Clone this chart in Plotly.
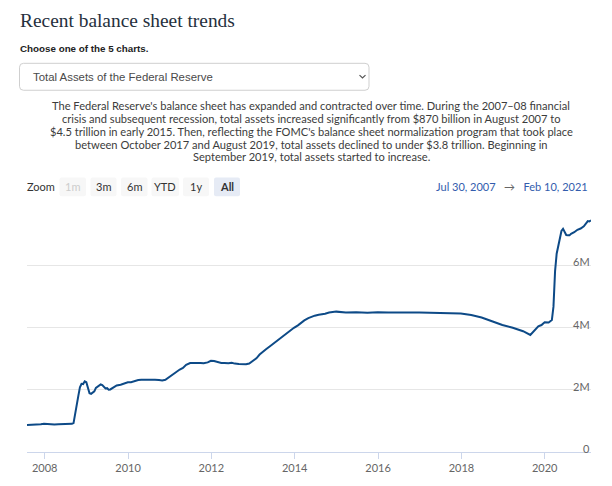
import plotly.graph_objects as go

# ---- data (Total assets of the Federal Reserve, billions of dollars) ----
dates = [
    "2007-07-30", "2007-08-29", "2007-09-26", "2007-10-31", "2007-11-28", "2007-12-26",
    "2008-01-30", "2008-02-27", "2008-03-26", "2008-04-30", "2008-05-28", "2008-06-25",
    "2008-07-30", "2008-08-27", "2008-09-10", "2008-09-24", "2008-10-08", "2008-10-22",
    "2008-11-05", "2008-11-19", "2008-12-03", "2008-12-17", "2008-12-31",
    "2009-01-14", "2009-01-28", "2009-02-11", "2009-02-25", "2009-03-11", "2009-03-25",
    "2009-04-08", "2009-04-22", "2009-05-06", "2009-05-20", "2009-06-03", "2009-06-17",
    "2009-07-01", "2009-07-15", "2009-07-29", "2009-08-12", "2009-08-26", "2009-09-23",
    "2009-10-28", "2009-11-25", "2009-12-30",
    "2010-01-27", "2010-02-24", "2010-03-31", "2010-04-28", "2010-05-26", "2010-06-30",
    "2010-07-28", "2010-08-25", "2010-09-29", "2010-10-27", "2010-11-24", "2010-12-29",
    "2011-01-26", "2011-02-23", "2011-03-30", "2011-04-27", "2011-05-25", "2011-06-29",
    "2011-07-27", "2011-08-31", "2011-09-28", "2011-10-26", "2011-11-30", "2011-12-28",
    "2012-01-25", "2012-02-29", "2012-03-28", "2012-04-25", "2012-05-30", "2012-06-27",
    "2012-07-25", "2012-08-29", "2012-09-26", "2012-10-31", "2012-11-28", "2012-12-26",
    "2013-01-30", "2013-02-27", "2013-03-27", "2013-04-24", "2013-05-29", "2013-06-26",
    "2013-07-31", "2013-08-28", "2013-09-25", "2013-10-30", "2013-11-27", "2013-12-25",
    "2014-01-29", "2014-02-26", "2014-03-26", "2014-04-30", "2014-05-28", "2014-06-25",
    "2014-07-30", "2014-08-27", "2014-09-24", "2014-10-29", "2014-11-26", "2014-12-31",
    "2015-03-25", "2015-06-24", "2015-09-30", "2015-12-30",
    "2016-03-30", "2016-06-29", "2016-09-28", "2016-12-28",
    "2017-03-29", "2017-06-28", "2017-09-27", "2017-12-27",
    "2018-03-28", "2018-06-27", "2018-09-26", "2018-12-26",
    "2019-03-27", "2019-06-26", "2019-08-28", "2019-09-18", "2019-10-09", "2019-11-06",
    "2019-12-04", "2020-01-01", "2020-02-05", "2020-03-04", "2020-03-18", "2020-03-25",
    "2020-04-01", "2020-04-15", "2020-04-29", "2020-05-13", "2020-05-27", "2020-06-10",
    "2020-06-24", "2020-07-08", "2020-07-22", "2020-08-05", "2020-08-19", "2020-09-16",
    "2020-10-14", "2020-11-11", "2020-12-09", "2020-12-30", "2021-01-13", "2021-01-27",
    "2021-02-10",
]
assets_bn = [
    869, 870, 872, 885, 890, 905,
    890, 882, 885, 888, 890, 893,
    900, 905, 927, 1234, 1614, 1805,
    2076, 2190, 2183, 2270, 2240,
    2060, 1890, 1870, 1900, 1950, 2060,
    2090, 2140, 2170, 2150, 2100, 2040,
    2050, 2000, 2010, 2040, 2090, 2140,
    2160, 2200, 2240,
    2240, 2280, 2310, 2320, 2320, 2340,
    2330, 2320, 2310, 2300, 2320, 2420,
    2500, 2560, 2650, 2700, 2800, 2860,
    2870, 2860, 2860, 2850, 2880, 2930,
    2920, 2880, 2860, 2860, 2850, 2870,
    2840, 2830, 2820, 2820, 2840, 2910,
    3010, 3130, 3230, 3300, 3400, 3480,
    3560, 3640, 3720, 3830, 3910, 3990,
    4070, 4160, 4230, 4300, 4350, 4380,
    4410, 4420, 4440, 4480, 4490, 4510,
    4480, 4490, 4470, 4490,
    4480, 4470, 4480, 4480,
    4470, 4470, 4470, 4450,
    4400, 4320, 4200, 4080,
    3990, 3880, 3760, 3850, 3950, 4040,
    4080, 4170, 4160, 4240, 4670, 5250,
    5810, 6370, 6650, 6930, 7100, 7170,
    7090, 6970, 6960, 6960, 7010, 7060,
    7140, 7180, 7250, 7360, 7420, 7410,
    7440,
]
ytick_vals = [0, 2e6, 4e6, 6e6, 8e6]
ytick_text = ["0", "2M", "4M", "6M", ""]
xtick_vals = ["2008-01-01", "2010-01-01", "2012-01-01", "2014-01-01",
              "2016-01-01", "2018-01-01", "2020-01-01"]
xtick_text = ["2008", "2010", "2012", "2014", "2016", "2018", "2020"]
zoom_buttons = ["1m", "3m", "6m", "YTD", "1y", "All"]
chart_options = ["Total Assets of the Federal Reserve"]
desc_lines = [
    "The Federal Reserve's balance sheet has expanded and contracted over time. During the 2007–08 financial",
    "crisis and subsequent recession, total assets increased significantly from $870 billion in August 2007 to",
    "$4.5 trillion in early 2015. Then, reflecting the FOMC's balance sheet normalization program that took place",
    "between October 2017 and August 2019, total assets declined to under $3.8 trillion. Beginning in",
    "September 2019, total assets started to increase.",
]

# ---- layout geometry (pixels) ----
W, H = 612, 486
L, R, T, B = 27, 591, 203, 457


def px(x):
    return (x - L) / (R - L)


def py(y):
    return (B - y) / (B - T)


def rrect(x0, y0, x1, y1, r):
    X = lambda v: px(v)
    Y = lambda v: py(v)
    return (f"M {X(x0 + r)} {Y(y0)} L {X(x1 - r)} {Y(y0)} Q {X(x1)} {Y(y0)} {X(x1)} {Y(y0 + r)} "
            f"L {X(x1)} {Y(y1 - r)} Q {X(x1)} {Y(y1)} {X(x1 - r)} {Y(y1)} "
            f"L {X(x0 + r)} {Y(y1)} Q {X(x0)} {Y(y1)} {X(x0)} {Y(y1 - r)} "
            f"L {X(x0)} {Y(y0 + r)} Q {X(x0)} {Y(y0)} {X(x0 + r)} {Y(y0)} Z")


def note(text, x, y, xanchor="left", size=11, family="Lato", color="#333333", **kw):
    if xanchor == "left":
        x -= 2
    return dict(text=text, x=px(x), y=py(y), xref="paper", yref="paper",
                xanchor=xanchor, yanchor="middle", showarrow=False,
                font=dict(family=family, size=size, color=color), **kw)


fig = go.Figure()
fig.add_trace(go.Scatter(
    x=dates, y=[v * 1000 for v in assets_bn], mode="lines",
    line=dict(color="#0d4a87", width=2), hoverinfo="x+y", showlegend=False,
))

shapes = []
annotations = []

# title
annotations.append(note("Recent balance sheet trends", 20, 17,
                        family="Liberation Serif", size=19.4, color="#25303d"))
annotations.append(note("<b>Choose one of the 5 charts.</b>", 20, 45,
                        family="Liberation Sans", size=9.8, color="#222222"))
# dropdown
shapes.append(dict(type="path", xref="paper", yref="paper",
                   path=rrect(19.5, 60.5, 369, 88, 4),
                   line=dict(color="#cfcfcf", width=1), fillcolor="white"))
annotations.append(note(chart_options[0], 33, 74, family="Liberation Sans", size=11.4,
                        color="#4a4a4a"))
shapes.append(dict(type="path", xref="paper", yref="paper",
                   path=f"M {px(359.5)} {py(72.5)} L {px(362.5)} {py(75.5)} L {px(365.5)} {py(72.5)}",
                   line=dict(color="#555555", width=1.2)))
# description
for i, line in enumerate(desc_lines):
    annotations.append(note(line, 311, 104 + 13 * i, xanchor="center", size=11.1,
                            color="#3c3c3c"))

# zoom row
annotations.append(note("Zoom", 27, 186.5, size=11, color="#333333"))
btn_x = [(59.5, 86), (90.5, 116.5), (121, 147.5), (151.5, 179), (183, 209), (214, 240)]
for lab, (a, b) in zip(zoom_buttons, btn_x):
    active = lab == "All"
    shapes.append(dict(type="path", xref="paper", yref="paper",
                       path=rrect(a, 177, b, 196, 2), line=dict(width=0),
                       fillcolor="#e6ebf5" if active else "#f7f7f7"))
    color = "#cccccc" if lab == "1m" else "#333333"
    txt = f"<b>{lab}</b>" if active else lab
    annotations.append(note(txt, (a + b) / 2, 186.5, xanchor="center", size=11, color=color))
annotations.append(note(
    '<span style="color:#335cad">Jul 30, 2007</span>'
    '<span style="color:#666666">   →   </span>'
    '<span style="color:#335cad">Feb 10, 2021</span>',
    590, 186.5, xanchor="right", size=11, color="#335cad"))

# y-axis labels: right-aligned inside the plot, sitting just above each gridline
for v, t in zip(ytick_vals, ytick_text):
    if t:
        annotations.append(dict(text=t, x=1, xref="paper", y=v, yref="y",
                                xanchor="right", yanchor="bottom", showarrow=False,
                                borderpad=0, yshift=-4,
                                font=dict(family="Lato", size=11, color="#666666")))

fig.update_layout(
    width=W, height=H,
    margin=dict(l=L, r=W - R, t=T, b=H - B, pad=0),
    paper_bgcolor="white", plot_bgcolor="white",
    shapes=shapes, annotations=annotations,
    showlegend=False,
    xaxis=dict(range=["2007-07-30", "2021-02-10"], tickvals=xtick_vals, ticktext=xtick_text,
               showgrid=False, showline=True, linecolor="#ccd6eb", linewidth=1,
               ticks="outside", ticklen=6, tickcolor="#ccd6eb",
               tickfont=dict(family="Lato", size=11, color="#666666"), zeroline=False),
    yaxis=dict(range=[0, 8e6], side="right", tickvals=ytick_vals, showticklabels=False,
               showgrid=True, gridcolor="#e6e6e6", gridwidth=1, zeroline=False,
               showline=False, ticks=""),
)

fig.write_html("out.html", config={"displayModeBar": False},
               post_script="document.body.style.margin='0';")
